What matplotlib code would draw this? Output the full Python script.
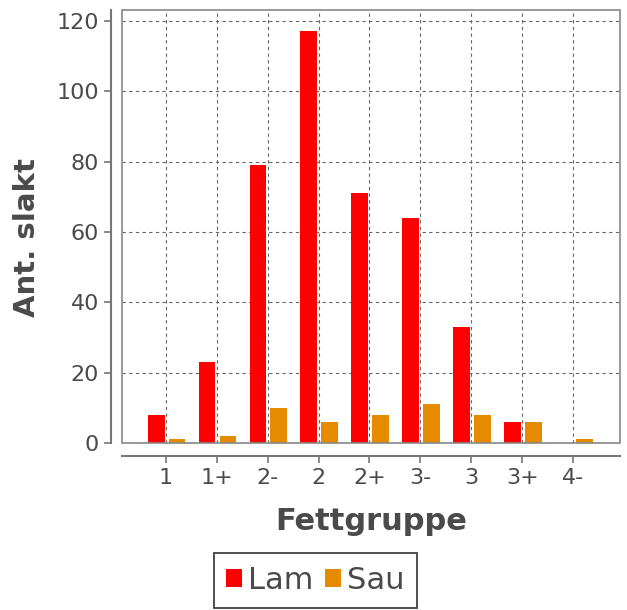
import numpy as np
import matplotlib
matplotlib.use('Agg')
import matplotlib.pyplot as plt
from matplotlib.patches import Rectangle

categories = ['1', '1+', '2-', '2', '2+', '3-', '3', '3+', '4-']
lam = [8, 23, 79, 117, 71, 64, 33, 6, 0]
sau = [1, 2, 10, 6, 8, 11, 8, 6, 1]
yticks = [0, 20, 40, 60, 80, 100, 120]

text_col = '#4a4a4a'
plt.rcParams['font.family'] = 'DejaVu Sans'

fig = plt.figure(figsize=(6.27, 6.10), dpi=100)
ax = fig.add_axes([122/627, (610-443)/610, 498/627, 433/610])

x = np.arange(len(categories))
w = 0.33
ax.bar(x - 0.19, lam, width=w, color='#ff0000', label='Lam', zorder=3)
ax.bar(x + 0.22, sau, width=w, color='#e68a00', label='Sau', zorder=3)

ax.set_xlim(-0.86, 8.92)
ax.set_ylim(0, 123.1)
ax.set_xticks(x)
ax.set_xticklabels(categories)
ax.set_yticks(yticks)

ax.grid(True, color='#666666', linestyle=(0, (3, 3)), linewidth=0.8, zorder=0)

# plot area border
ax.add_patch(Rectangle((0, 0), 1, 1, transform=ax.transAxes, fill=False,
                       edgecolor='#888888', linewidth=1.2, clip_on=False, zorder=4))

# axes offset from the plot area
for s in ['top', 'right']:
    ax.spines[s].set_visible(False)
ax.spines['left'].set_position(('outward', 8))
ax.spines['bottom'].set_position(('outward', 9))
for s in ['left', 'bottom']:
    ax.spines[s].set_color('#777777')
    ax.spines[s].set_linewidth(1.5)

ax.tick_params(axis='both', colors='#777777', labelcolor=text_col, labelsize=16,
               length=5, width=1.2)
ax.tick_params(axis='x', pad=4)

ax.set_xlabel('Fettgruppe', fontsize=22, fontweight='bold', color=text_col, labelpad=14)
ax.set_ylabel('Ant. slakt', fontsize=21, fontweight='bold', color=text_col)
ax.yaxis.set_label_coords(-0.162, 0.475)

handles, labels = ax.get_legend_handles_labels()
leg = fig.legend(handles, labels, loc='upper center', bbox_to_anchor=(0.503, (610-553)/610),
                 ncol=2, frameon=True, fancybox=False, edgecolor='#111111', fontsize=22,
                 handlelength=0.5, handleheight=0.5, handletextpad=0.2, columnspacing=0.4,
                 borderpad=0.42, borderaxespad=0)
leg.get_frame().set_linewidth(1.3)
for t in leg.get_texts():
    t.set_color(text_col)

plt.savefig('out.png', dpi=100)
plt.close()
